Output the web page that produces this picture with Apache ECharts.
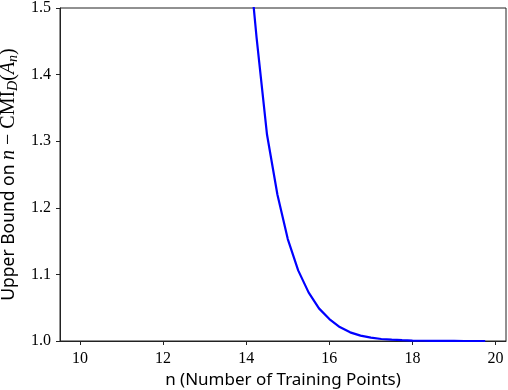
<!DOCTYPE html>
<html>
<head>
<meta charset="utf-8">
<script src="https://cdn.jsdelivr.net/npm/echarts@6/dist/echarts.min.js"></script>
<style>
  html, body { margin: 0; padding: 0; background: #fff; }
  #chart { width: 508px; height: 390px; }
</style>
</head>
<body>
<div id="chart"></div>
<script>
// training set size n (points above 1.5 are clipped by the axis)
var nPoints = [13.5, 13.75, 14.0, 14.25, 14.5, 14.75, 15.0, 15.25, 15.5, 15.75,
  16.0, 16.25, 16.5, 16.75, 17.0, 17.25, 17.5, 17.75, 18.0, 18.25,
  18.5, 18.75, 19.0, 19.25, 19.5, 19.75];
// upper bound
var upperBound = [2.05, 1.82, 1.62, 1.455, 1.31, 1.22, 1.153, 1.106, 1.073, 1.049,
  1.033, 1.021, 1.013, 1.008, 1.005, 1.003, 1.002, 1.0012, 1.0007, 1.0004,
  1.0002, 1.0001, 1.0001, 1.0, 1.0, 1.0];
var xTicks = [10, 12, 14, 16, 18, 20];

var chart = echarts.init(document.getElementById('chart'));

var lineData = [];
for (var i = 0; i < nPoints.length; i++) {
  lineData.push([nPoints[i], upperBound[i]]);
}

var axisCol = '#222';
var tickFont = 'Liberation Serif';

var option = {
  animation: false,
  grid: {
    left: 60, right: 2, top: 8, bottom: 49,
    outerBoundsMode: 'none',
    containLabel: false,
    show: true, borderColor: axisCol, borderWidth: 1, backgroundColor: 'transparent'
  },
  xAxis: {
    type: 'value',
    min: 9.52,
    max: 20.25,
    name: 'n (Number of Training Points)',
    nameLocation: 'middle',
    nameGap: 27,
    nameTextStyle: { fontFamily: 'Noto Sans', fontSize: 17, color: '#000' },
    axisLine: { show: true, lineStyle: { color: axisCol, width: 1 } },
    axisTick: { show: true, length: 4, customValues: xTicks, lineStyle: { color: axisCol } },
    axisLabel: {
      customValues: xTicks,
      fontFamily: tickFont, fontSize: 16, color: '#000', margin: 10
    },
    splitLine: { show: false }
  },
  yAxis: {
    type: 'value',
    min: 1.0,
    max: 1.5,
    interval: 0.1,
    name: '{t|Upper Bound on }{i|n}{r| − CMI}{s|D}{r|(}{i|A}{s|n}{r|)}',
    nameLocation: 'middle',
    nameGap: 37,
    nameTextStyle: {
      color: '#000',
      rich: {
        t: { fontFamily: 'Noto Sans', fontSize: 17.5, color: '#000', lineHeight: 22 },
        r: { fontFamily: 'Liberation Serif', fontSize: 20, color: '#000', lineHeight: 22 },
        i: { fontFamily: 'Liberation Serif', fontStyle: 'italic', fontSize: 20, color: '#000', lineHeight: 22 },
        s: { fontFamily: 'Liberation Serif', fontStyle: 'italic', fontSize: 14, color: '#000', lineHeight: 22, verticalAlign: 'bottom', padding: [8, 0, 0, 0] }
      }
    },
    axisLine: { show: true, lineStyle: { color: axisCol, width: 1 } },
    axisTick: { show: true, length: 4, lineStyle: { color: axisCol } },
    axisLabel: {
      fontFamily: tickFont, fontSize: 16, color: '#000', margin: 9,
      formatter: function (v) { return v.toFixed(1); }
    },
    splitLine: { show: false }
  },
  series: [{
    type: 'line',
    data: lineData,
    showSymbol: false,
    clip: true,
    lineStyle: { color: '#0000ff', width: 2.2 },
    itemStyle: { color: '#0000ff' }
  }]
};

chart.setOption(option);
</script>
</body>
</html>
